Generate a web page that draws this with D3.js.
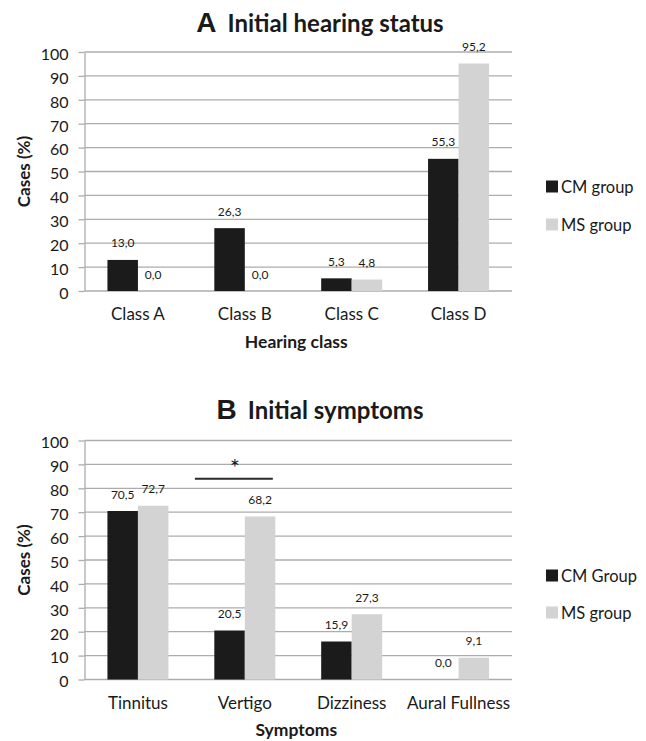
<!DOCTYPE html>
<html>
<head>
<meta charset="utf-8">
<script src="https://cdn.jsdelivr.net/npm/d3@7"></script>
<style>
  html, body { margin: 0; padding: 0; background: #fff; }
  svg { display: block; }
  text { font-family: Lato, "Open Sans", sans-serif; fill: #1a1a1a; }
</style>
</head>
<body>
<svg id="chart" width="646" height="741"></svg>
<script>
// ---------- data ----------
const seriesNames = ["CM", "MS"];
const yTicks = [0, 10, 20, 30, 40, 50, 60, 70, 80, 90, 100];

const categoriesA = ["Class A", "Class B", "Class C", "Class D"];
const cmA = [13.0, 26.3, 5.3, 55.3];
const msA = [0.0, 0.0, 4.8, 95.2];
const legendA = ["CM group", "MS group"];

const categoriesB = ["Tinnitus", "Vertigo", "Dizziness", "Aural Fullness"];
const cmB = [70.5, 20.5, 15.9, 0.0];
const msB = [72.7, 68.2, 27.3, 9.1];
const legendB = ["CM Group", "MS group"];

const significance = { category: "Vertigo", level: 84, mark: "*" };

// ---------- styles ----------
const colors = { CM: "#1b1b1b", MS: "#d3d3d3" };
const gridColor = "#acacac";
const fmt = v => d3.format(".1f")(v).replace(".", ",");

const svg = d3.select("#chart");
svg.append("rect").attr("width", 646).attr("height", 741).attr("fill", "#fff");

function panel(opts) {
  const { top, bottom, letter, title, titleY, categories, cm, ms, legend,
          xTitle, catLabelY, xTitleY, legendY } = opts;
  const left = 84.5, right = 512;
  const g = svg.append("g");

  const y = d3.scaleLinear().domain([0, 100]).range([bottom, top]);
  const x0 = d3.scaleBand().domain(categories).range([left, right]).padding(0);
  const half = 30.5;
  const x1 = d3.scaleBand().domain(seriesNames)
    .range([x0.bandwidth() / 2 - half, x0.bandwidth() / 2 + half]).padding(0);

  // gridlines
  g.append("g").selectAll("line").data(yTicks).join("line")
    .attr("x1", left).attr("x2", right)
    .attr("y1", d => y(d)).attr("y2", d => y(d))
    .attr("stroke", gridColor).attr("stroke-width", 1.3);

  // y axis
  const ax = g.append("g").attr("transform", `translate(${left},0)`)
    .call(d3.axisLeft(y).tickValues(yTicks).tickSizeInner(6).tickSizeOuter(0).tickPadding(10));
  ax.select(".domain").attr("stroke", gridColor).attr("stroke-width", 1.3);
  ax.selectAll(".tick line").attr("stroke", gridColor).attr("stroke-width", 1.3);
  ax.selectAll(".tick text").attr("font-family", "Lato, sans-serif")
    .attr("font-size", 16).attr("fill", "#1a1a1a").attr("dy", "0.46em");

  // bars
  const rows = categories.map((c, i) => ({ cat: c, values: [
    { s: "CM", v: cm[i] }, { s: "MS", v: ms[i] } ] }));
  const cg = g.append("g").selectAll("g").data(rows).join("g")
    .attr("transform", d => `translate(${x0(d.cat)},0)`);
  cg.selectAll("rect").data(d => d.values).join("rect")
    .attr("x", d => x1(d.s)).attr("width", x1.bandwidth())
    .attr("y", d => y(d.v)).attr("height", d => y(0) - y(d.v))
    .attr("fill", d => colors[d.s]);
  cg.selectAll("text").data(d => d.values).join("text")
    .attr("x", d => x1(d.s) + x1.bandwidth() / 2)
    .attr("y", d => y(d.v) - 12.5)
    .attr("text-anchor", "middle").attr("font-size", 12).attr("fill", "#333")
    .text(d => fmt(d.v));

  // category labels
  g.append("g").selectAll("text").data(categories).join("text")
    .attr("x", d => x0(d) + x0.bandwidth() / 2).attr("y", catLabelY)
    .attr("text-anchor", "middle").attr("font-size", 17).text(d => d);

  // axis titles
  g.append("text").attr("x", (left + right) / 2 - 2).attr("y", xTitleY)
    .attr("text-anchor", "middle").attr("font-size", 17.5).attr("font-weight", "bold")
    .text(xTitle);
  g.append("text")
    .attr("transform", `translate(30,${(top + bottom) / 2}) rotate(-90)`)
    .attr("text-anchor", "middle").attr("font-size", 17).attr("font-weight", "bold")
    .text("Cases (%)");

  // title
  const t = g.append("text").attr("x", 320).attr("y", titleY).attr("text-anchor", "middle");
  t.append("tspan").attr("font-family", "'Liberation Sans', Arial, sans-serif")
    .attr("font-weight", "bold").attr("font-size", 28).text(letter);
  t.append("tspan").attr("dx", 11).attr("font-weight", "bold").attr("font-size", 24).text(title);

  // legend
  const lg = g.append("g").selectAll("g").data(seriesNames).join("g")
    .attr("transform", (d, i) => `translate(546,${legendY[i]})`);
  lg.append("rect").attr("x", 0).attr("y", -11.5).attr("width", 12).attr("height", 12)
    .attr("fill", d => colors[d]);
  lg.append("text").attr("x", 15).attr("y", 0.5).attr("font-size", 16.5)
    .text((d, i) => legend[i]);

  return { x0, x1, y, g };
}

panel({ top: 52, bottom: 291, letter: "A", title: "Initial hearing status", titleY: 32,
  categories: categoriesA, cm: cmA, ms: msA, legend: legendA,
  xTitle: "Hearing class", catLabelY: 320, xTitleY: 348, legendY: [192, 230] });

const pB = panel({ top: 440.5, bottom: 679.5, letter: "B", title: "Initial symptoms", titleY: 419,
  categories: categoriesB, cm: cmB, ms: msB, legend: legendB,
  xTitle: "Symptoms", catLabelY: 709, xTitleY: 736, legendY: [581, 618] });

// significance bar
const sx0 = pB.x0(significance.category) + 3.5;
const sx1 = pB.x0(significance.category) + pB.x1("MS") + pB.x1.bandwidth() - 2.5;
pB.g.append("line").attr("x1", sx0).attr("x2", sx1)
  .attr("y1", pB.y(significance.level)).attr("y2", pB.y(significance.level))
  .attr("stroke", "#2a2a2a").attr("stroke-width", 1.8);
pB.g.append("text").attr("x", (sx0 + sx1) / 2 + 1).attr("y", pB.y(significance.level) - 3)
  .attr("text-anchor", "middle").attr("font-size", 24).text(significance.mark);
</script>
</body>
</html>
